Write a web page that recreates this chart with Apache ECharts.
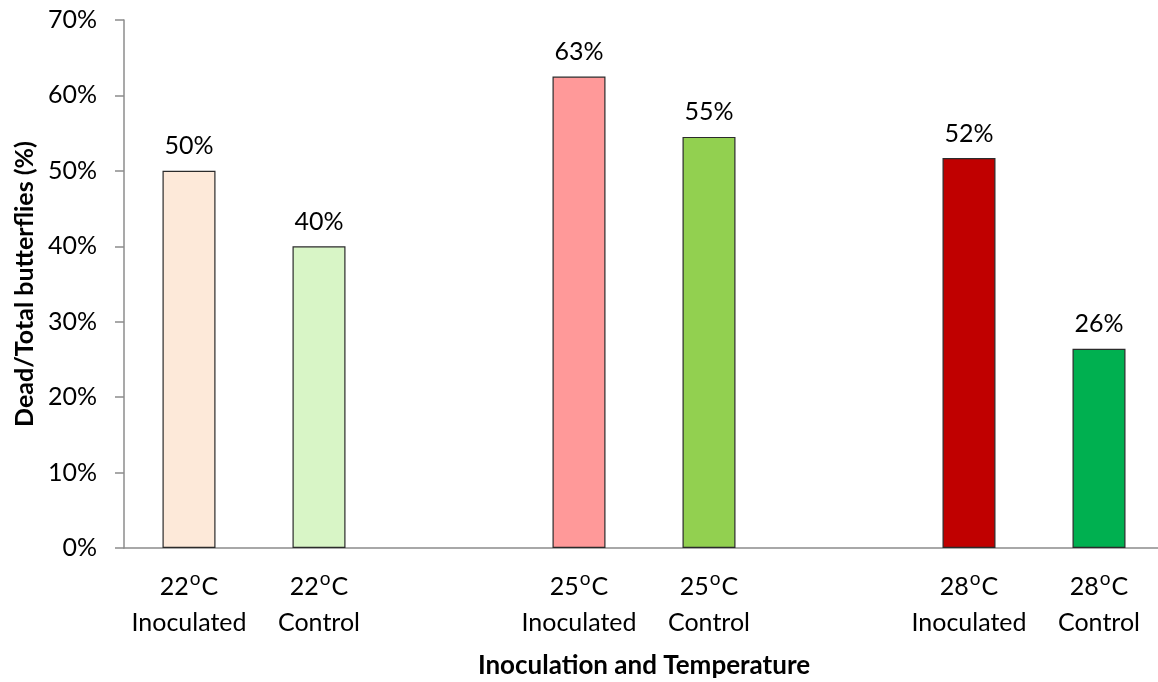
<!DOCTYPE html>
<html lang="en">
<head>
    <meta charset="UTF-8">
    <title>Dead/Total butterflies</title>
    <script src="https://cdn.jsdelivr.net/npm/echarts@6/dist/echarts.min.js"></script>
    <style>
        html, body { margin: 0; padding: 0; background: #fff; overflow: hidden; }
        #chart { width: 1158px; height: 682px; }
    </style>
</head>
<body>
<div id="chart"></div>
<script>
    // empty slots ('' / null) make the gaps between temperature groups
    const categories = ['22°C\nInoculated', '22°C\nControl', '', '25°C\nInoculated', '25°C\nControl', '', '28°C\nInoculated', '28°C\nControl'];
    const deadPercent = [50, 40, null, 62.5, 54.5, null, 51.7, 26.4];
    const barColors = ['#FDE9D9', '#D8F5C6', null, '#FF9999', '#92D050', null, '#C00000', '#00B050'];
    const yTicks = [0, 10, 20, 30, 40, 50, 60, 70];

    const font = 'Lato, "Open Sans", sans-serif';
    const axisGray = '#8c8c8c';

    const myChart = echarts.init(document.getElementById('chart'));
    const option = {
        backgroundColor: '#fff',
        textStyle: { fontFamily: font },
        // plot runs a little past the right edge, like the original
        grid: { left: 124, top: 20, width: 1040, height: 528, containLabel: false, outerBoundsMode: 'none' },
        xAxis: {
            type: 'category',
            data: categories,
            name: 'Inoculation and Temperature',
            nameLocation: 'middle',
            nameGap: 105,
            nameTextStyle: { fontSize: 26, fontWeight: 'bold', color: '#000', fontFamily: font },
            axisLine: { lineStyle: { color: axisGray, width: 1.5 } },
            axisTick: { show: false },
            axisLabel: {
                interval: 0,
                margin: 21,
                fontSize: 25,
                lineHeight: 36,
                color: '#000',
                fontFamily: font,
                formatter: v => v.replace('°', '{deg|o}'),
                rich: {
                    deg: { fontSize: 19, verticalAlign: 'top', lineHeight: 36, padding: [0, 1, 9, 1], fontFamily: font }
                }
            }
        },
        yAxis: {
            type: 'value',
            min: yTicks[0],
            max: yTicks[yTicks.length - 1],
            interval: 10,
            name: 'Dead/Total butterflies (%)',
            nameLocation: 'middle',
            nameGap: 84,
            nameTextStyle: { fontSize: 25, fontWeight: 'bold', color: '#000', fontFamily: font },
            splitLine: { show: false },
            axisLine: { show: true, lineStyle: { color: axisGray, width: 1.5 } },
            axisTick: { show: true, inside: false, length: 9, lineStyle: { color: axisGray, width: 1.5 } },
            axisLabel: {
                margin: 27,
                fontSize: 25,
                color: '#000',
                fontFamily: font,
                formatter: v => v + '%'
            }
        },
        series: [
            {
                name: 'Dead/Total',
                type: 'bar',
                barWidth: 53,
                data: deadPercent.map((v, i) => v === null ? '-' : {
                    value: v,
                    itemStyle: { color: barColors[i], borderColor: '#2b2b2b', borderWidth: 1.2 }
                }),
                label: {
                    show: true,
                    position: 'top',
                    distance: 12,
                    fontSize: 25,
                    color: '#000',
                    fontFamily: font,
                    formatter: p => Math.round(p.value) + '%'
                }
            }
        ]
    };
    myChart.setOption(option);
</script>
</body>
</html>
